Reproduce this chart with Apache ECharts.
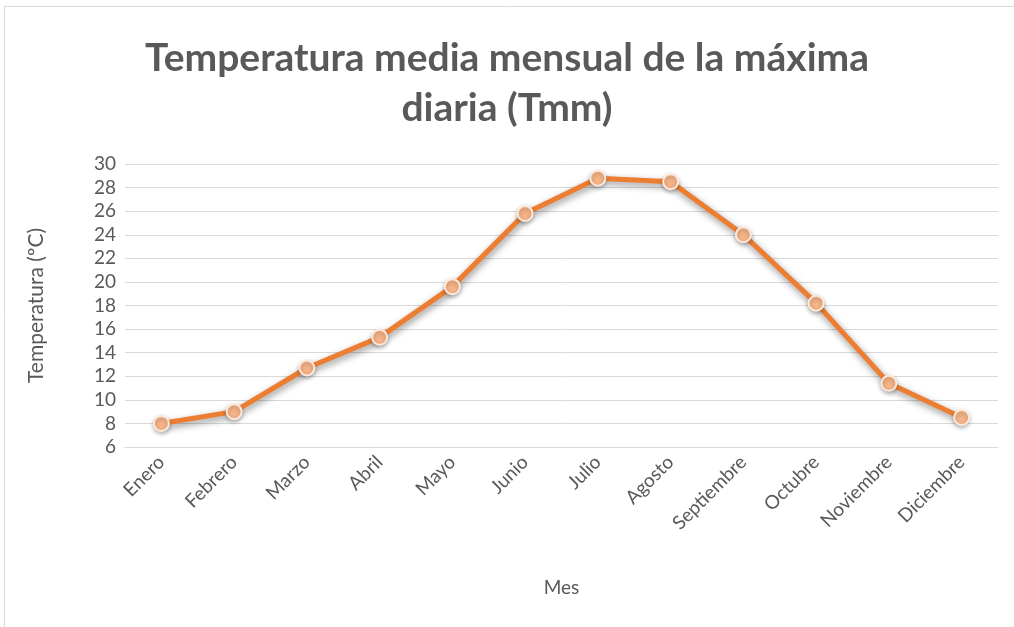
<!DOCTYPE html>
<html>
<head>
<meta charset="utf-8">
<script src="https://cdn.jsdelivr.net/npm/echarts@6/dist/echarts.min.js"></script>
<style>
    html, body { margin: 0; padding: 0; background: #fff; }
    #chart { width: 1014px; height: 627px; }
</style>
</head>
<body>
<div id="chart"></div>
<script>
var meses = ["Enero", "Febrero", "Marzo", "Abril", "Mayo", "Junio", "Julio",
    "Agosto", "Septiembre", "Octubre", "Noviembre", "Diciembre"];
var tmm = [8.0, 9.0, 12.7, 15.3, 19.6, 25.8, 28.8, 28.5, 24.0, 18.2, 11.4, 8.5];

var myChart = echarts.init(document.getElementById("chart"));
var fuente = "Lato, 'Open Sans', sans-serif";
var gris = "#595959";

var option = {
    backgroundColor: "#fff",
    textStyle: { fontFamily: fuente },
    title: {
        text: "Temperatura media mensual de la máxima\ndiaria (Tmm)",
        left: "center",
        top: 28,
        textStyle: {
            fontFamily: fuente,
            fontSize: 39,
            fontWeight: "bold",
            color: gris,
            lineHeight: 50
        }
    },
    graphic: [{
        type: "rect",
        shape: { x: 4.5, y: 6.5, width: 1020, height: 640 },
        style: { fill: "none", stroke: "#d9d9d9", lineWidth: 1 },
        silent: true
    }],
    grid: {
        left: 125,
        right: 16,
        top: 164,
        bottom: 180
    },
    xAxis: {
        type: "category",
        data: meses,
        name: "Mes",
        nameLocation: "middle",
        nameGap: 131,
        nameTextStyle: { color: gris, fontSize: 19, fontFamily: fuente },
        axisLine: { show: true, lineStyle: { color: "#d9d9d9", width: 1 } },
        axisTick: { show: false },
        axisLabel: {
            rotate: 45,
            color: gris,
            fontSize: 19,
            fontFamily: fuente,
            margin: 12
        }
    },
    yAxis: {
        type: "value",
        min: 6,
        max: 30,
        interval: 2,
        name: "Temperatura (ºC)",
        nameLocation: "middle",
        nameGap: 78,
        nameTextStyle: { color: gris, fontSize: 21, fontFamily: fuente },
        axisLine: { show: false },
        axisTick: { show: false },
        axisLabel: { color: gris, fontSize: 19, fontFamily: fuente, margin: 9 },
        splitLine: { lineStyle: { color: "#d9d9d9", width: 1 } }
    },
    series: [{
        name: "Tmm",
        type: "line",
        data: tmm,
        symbol: "circle",
        symbolSize: 15,
        lineStyle: {
            color: "#ED7D31",
            width: 5,
            shadowColor: "rgba(0,0,0,0.45)",
            shadowBlur: 7,
            shadowOffsetX: 1,
            shadowOffsetY: 3
        },
        itemStyle: {
            color: "#F5B387",
            borderColor: "#FDE9DB",
            borderWidth: 2,
            shadowColor: "rgba(0,0,0,0.25)",
            shadowBlur: 4,
            shadowOffsetY: 2
        },
        animation: false
    }]
};

myChart.setOption(option);
</script>
</body>
</html>
